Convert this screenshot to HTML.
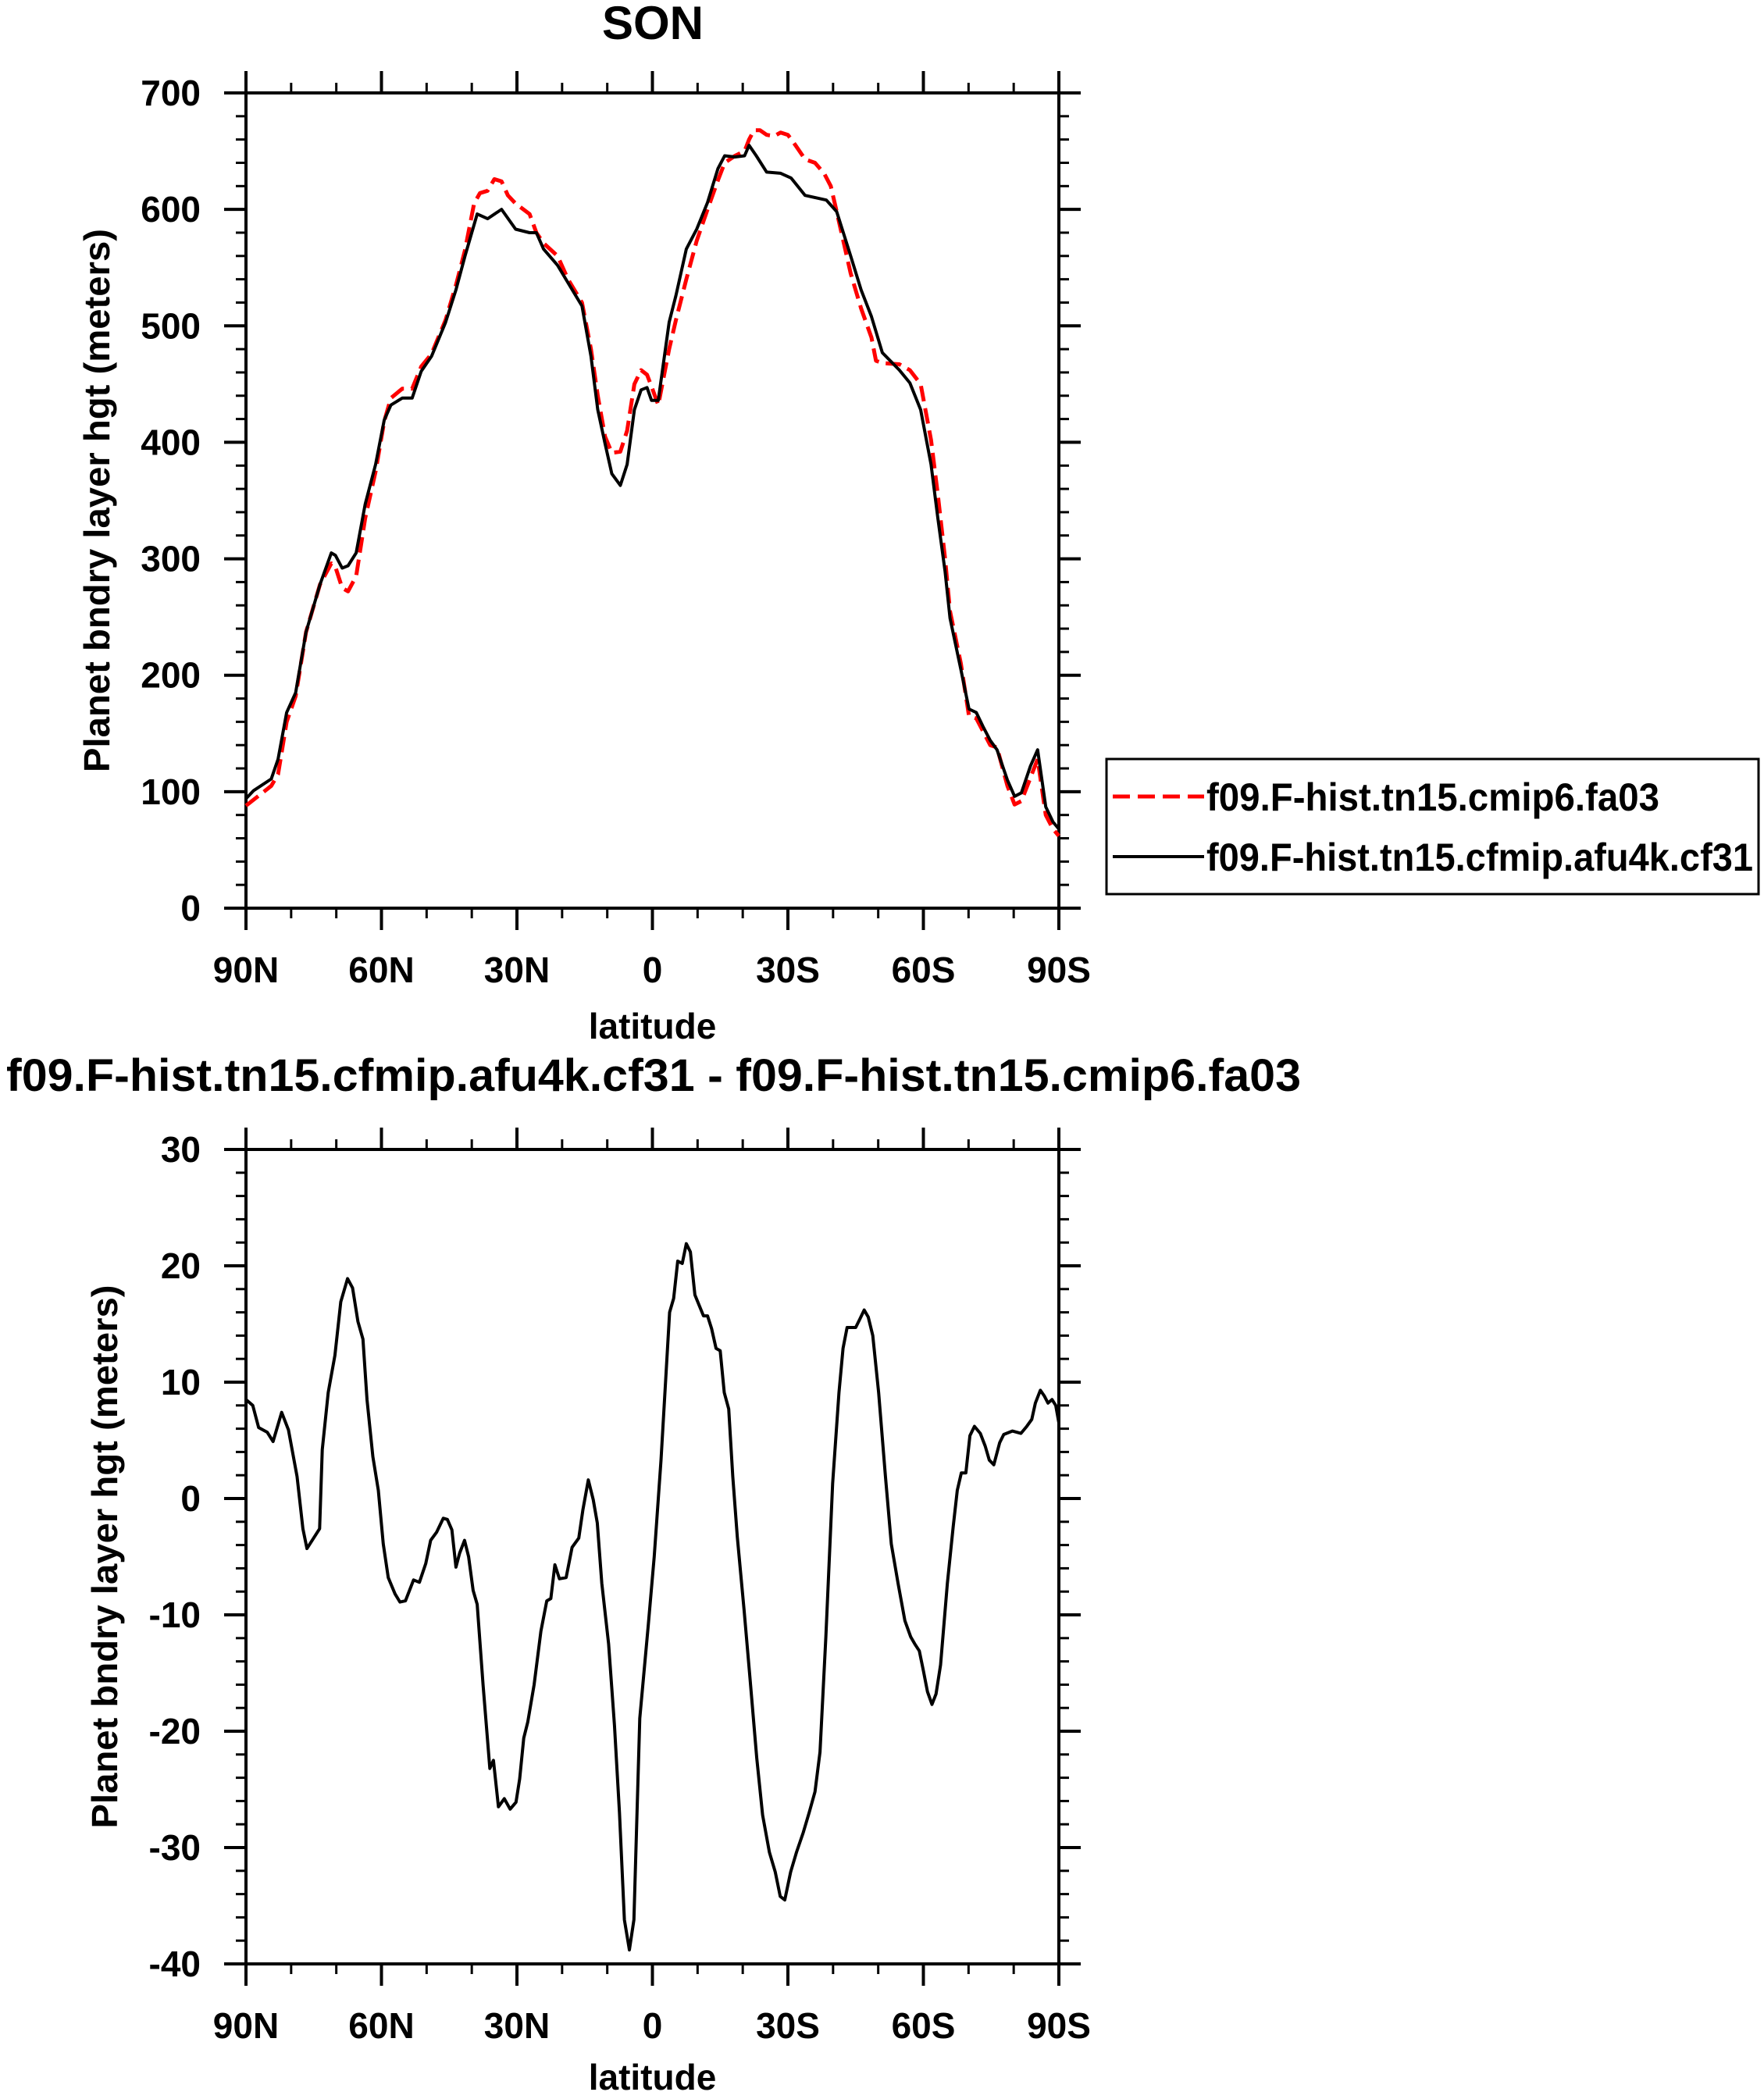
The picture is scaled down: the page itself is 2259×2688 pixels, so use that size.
<!DOCTYPE html>
<html><head><meta charset="utf-8"><style>
html,body{margin:0;padding:0;background:#fff;}
svg{display:block;font-family:"Liberation Sans",sans-serif;font-weight:bold;}
</style></head><body>
<svg id="chart" width="2259" height="2688" viewBox="0 0 2259 2688" xmlns="http://www.w3.org/2000/svg">
<rect width="2259" height="2688" fill="#fff"/>
<text x="836" y="50" font-size="60" text-anchor="middle">SON</text>
<text x="8" y="1397" font-size="58" textLength="1658" lengthAdjust="spacingAndGlyphs">f09.F-hist.tn15.cfmip.afu4k.cf31 - f09.F-hist.tn15.cmip6.fa03</text>
<g id="toppanel"></g>
<g id="botpanel"></g>
<g>
<rect x="1417" y="972" width="835" height="173" fill="none" stroke="#000" stroke-width="3"/>
<line x1="1425" y1="1020" x2="1542" y2="1020" stroke="#f00" stroke-width="5" stroke-dasharray="22 10"/>
<text x="1545" y="1038" font-size="50" textLength="580" lengthAdjust="spacingAndGlyphs">f09.F-hist.tn15.cmip6.fa03</text>
<line x1="1425" y1="1097" x2="1542" y2="1097" stroke="#000" stroke-width="4"/>
<text x="1545" y="1115" font-size="50" textLength="700" lengthAdjust="spacingAndGlyphs">f09.F-hist.tn15.cfmip.afu4k.cf31</text>
</g>
</svg>
<script>
// degrees from 90N (0 = 90N, 180 = 90S)
const xTickLabels = ["90N","60N","30N","0","30S","60S","90S"];
const topYTicks = [0,100,200,300,400,500,600,700];
const botYTicks = [-40,-30,-20,-10,0,10,20,30];
const blackX = [0,1.7,5.6,7.1,9,11,13.3,16.4,18.9,19.8,21.3,22.6,24.4,26.4,28.7,30.6,32.1,34.6,36.8,38.8,41.1,44.2,46.5,48.5,51.2,53.5,56.6,59.7,62.8,64.3,65.9,69,71.3,74.4,76.4,77.9,79.5,81,82.9,84.4,86,87.5,88.8,89.8,91.3,93.7,95.2,97.5,99.8,102.2,104.5,106,108.3,110.4,111.4,113,115.3,118.4,120.7,123.8,128.5,130.8,133.9,136.2,138.5,140.9,144.7,147,149.4,151.7,153.2,154.8,155.9,158.3,160.1,161.7,163.2,164.8,166.3,168.6,170.2,171.7,173.7,175.3,177.1,178.7,180];
const blackY = [94,101,111,128,168,185,237,278,305,303,292,294,305,347,381,419,432,438,438,461,474,503,531,560,596,592,600,583,580,580,566,552,537,517,474,428,399,373,363,381,428,445,447,436,436,503,526,566,583,606,635,646,645,646,655,646,632,631,627,612,608,598,560,531,508,477,462,451,428,381,335,289,249,205,171,168,156,144,136,110,96,99,122,136,87,74,68];
const redX = [0,5.6,7.1,9,11,13.3,16.4,18.9,19.8,21.3,22.6,24.4,26.4,28.7,30.6,32.1,34.6,36.8,38.8,41.1,44.2,46.5,48.5,50.5,51.8,53.5,55,56.6,58,59.7,62.8,64.3,65.9,69,71.3,74.4,76.4,77.9,79.5,81,82.9,84.4,86,87.5,88.8,89.8,91.3,93.7,95.2,97.5,99.8,102.2,104.5,106,108.3,110.4,111.4,112.5,113.8,115.3,117,118.4,120,121.5,123.8,126,128,129.5,130.8,133.9,136.2,138.5,139.5,141,144.7,147,149.4,151.7,153.2,154.8,155.9,158.3,160.1,161.7,163.2,164.8,166.3,168.6,170.2,171.7,173.7,175.3,177.1,178.7,180];
const redY = [88,105,115,160,182,237,278,296,293,275,272,285,335,375,418,438,446,446,465,476,505,535,565,605,614,616,626,624,612,605,596,580,571,560,540,520,480,440,405,391,392,410,450,462,458,448,432,480,505,540,573,600,625,640,646,650,660,668,668,664,663,666,664,656,643,640,631,620,598,545,515,490,470,468,467,462,450,402,355,300,255,210,165,163,152,140,138,105,89,92,112,128,80,68,62];
const diffX = [0,1.5,2.8,4.7,6,7.9,9.4,11.3,12.6,13.5,16.3,16.9,18.2,19.7,21,22.5,23.6,24.8,25.9,26.8,28.1,29.3,30.4,31.5,33,34.1,35.3,37.1,38.4,39.8,40.9,42.2,43.7,44.6,45.6,46.5,47.3,48.4,49.3,50.3,51.2,52.5,54,54.8,55.9,57.2,58.5,59.8,60.6,61.5,62.4,63.8,65.3,66.6,67.5,68.4,69.4,70.9,72.2,73.7,74.6,75.8,76.9,77.8,78.8,80.3,81.6,82.7,83.8,84.9,85.9,87.2,89.1,90.4,91.9,93.8,94.7,95.6,96.6,97.5,98.4,99.4,101.3,102.2,103.1,104.1,105,105.9,106.9,107.8,108.8,110.3,111.6,113.1,114.4,115.9,117.2,118.3,119.3,120.6,121.9,123.4,124.7,126,127.1,128.4,129.9,131.3,132.2,133.1,135,135.9,136.9,137.8,138.8,140.1,141.6,142.9,144.4,145.9,147.2,148.1,149.1,150,150.9,151.9,152.8,153.8,155.3,156.6,157.5,158.4,159.4,160.3,161.3,162.6,163.7,164.6,165.6,166.9,167.8,169.7,171.6,172.9,174,174.8,175.9,176.8,177.6,178.5,179.3,180];
const diffY = [8.5,8.0,6.1,5.7,4.9,7.4,5.9,1.9,-2.6,-4.3,-2.6,4.2,9.1,12.3,16.9,18.9,18.1,15.2,13.7,8.5,3.6,0.7,-3.9,-6.8,-8.2,-8.9,-8.8,-7.0,-7.2,-5.6,-3.6,-2.9,-1.7,-1.8,-2.7,-5.9,-4.7,-3.6,-5.0,-7.9,-9.1,-16,-23.2,-22.5,-26.5,-25.8,-26.7,-26.1,-24.1,-20.6,-19.2,-16,-11.4,-8.8,-8.6,-5.7,-6.9,-6.8,-4.2,-3.4,-1.0,1.6,-0.1,-2.1,-7.3,-12.5,-19.5,-27,-36.2,-38.8,-36.2,-18.9,-10.8,-5,3.3,16,17.2,20.4,20.2,21.9,21.2,17.5,15.7,15.7,14.6,12.9,12.7,9.1,7.7,1.9,-3.3,-9.6,-15.4,-22.3,-27.2,-30.4,-32.1,-34.2,-34.5,-32.1,-30.4,-28.7,-27.0,-25.2,-21.8,-11.9,1.3,9.1,12.9,14.7,14.7,15.4,16.2,15.6,14,9.1,1.9,-3.9,-7.3,-10.5,-11.9,-12.5,-13.1,-14.8,-16.6,-17.7,-16.8,-14.3,-7.3,-2.4,0.7,2.2,2.2,5.4,6.2,5.6,4.5,3.3,2.9,4.8,5.5,5.8,5.6,6.2,6.8,8.2,9.3,8.8,8.2,8.5,8.0,6.5];

const NS="http://www.w3.org/2000/svg";
function mk(parent,tag,attrs,name){
  const e=document.createElementNS(NS,tag);
  for(const k in attrs) e.setAttribute(k,attrs[k]);
  
  
  parent.appendChild(e);return e;
}
function panel(g,L,R,T,B,ymin,ymax,yTicks,yMinorStep,yTitle,titleX,xLblY,latY,prefix){
  const sx=d=>L+(d/180)*(R-L);
  const sy=v=>B-(v-ymin)/(ymax-ymin)*(B-T);
  for(let d=0;d<=180;d+=10){ if(d%30===0) continue;
    mk(g,'line',{x1:sx(d),x2:sx(d),y1:B,y2:B+13,stroke:'#000','stroke-width':3},prefix+'x-minor-tick');
    mk(g,'line',{x1:sx(d),x2:sx(d),y1:T,y2:T-13,stroke:'#000','stroke-width':3},prefix+'x-minor-tick-top');
  }
  for(let v=ymin;v<=ymax+1e-9;v+=yMinorStep){
    mk(g,'line',{x1:L,x2:L-13,y1:sy(v),y2:sy(v),stroke:'#000','stroke-width':3},prefix+'y-minor-tick');
    mk(g,'line',{x1:R,x2:R+13,y1:sy(v),y2:sy(v),stroke:'#000','stroke-width':3},prefix+'y-minor-tick-right');
  }
  xTickLabels.forEach((lab,i)=>{const d=i*30;
    mk(g,'line',{x1:sx(d),x2:sx(d),y1:B,y2:B+28,stroke:'#000','stroke-width':4},prefix+'x-major-tick');
    mk(g,'line',{x1:sx(d),x2:sx(d),y1:T,y2:T-28,stroke:'#000','stroke-width':4},prefix+'x-major-tick-top');
    const t=mk(g,'text',{x:sx(d),y:xLblY,'font-size':46,'text-anchor':'middle'},prefix+'x-tick-label');t.textContent=lab;
  });
  yTicks.forEach(v=>{
    mk(g,'line',{x1:L,x2:L-28,y1:sy(v),y2:sy(v),stroke:'#000','stroke-width':4},prefix+'y-major-tick');
    mk(g,'line',{x1:R,x2:R+28,y1:sy(v),y2:sy(v),stroke:'#000','stroke-width':4},prefix+'y-major-tick-right');
    const t=mk(g,'text',{x:257,y:sy(v)+16,'font-size':46,'text-anchor':'end'},prefix+'y-tick-label');t.textContent=String(v);
  });
  mk(g,'rect',{x:L,y:T,width:R-L,height:B-T,fill:'none',stroke:'#000','stroke-width':4},prefix+'plot-frame');
  const xl=mk(g,'text',{x:(L+R)/2,y:latY,'font-size':46,'text-anchor':'middle'},prefix+'x-axis-title');xl.textContent='latitude';
  const cy=(T+B)/2;
  const yt=mk(g,'text',{x:titleX,y:cy,'font-size':46,'text-anchor':'middle',transform:'rotate(-90 '+titleX+' '+cy+')',textLength:696,lengthAdjust:'spacingAndGlyphs',dy:16},prefix+'y-axis-title');
  yt.textContent=yTitle;
  return {sx,sy};
}
function drawLine(g,xs,ys,ax,attrs,name){
  const pts=xs.map((d,i)=>ax.sx(d).toFixed(1)+','+ax.sy(ys[i]).toFixed(1)).join(' ');
  return mk(g,'polyline',Object.assign({points:pts,fill:'none','stroke-linejoin':'round'},attrs),name);
}
const topG=document.getElementById('toppanel');
const axT=panel(topG,315,1356,119,1163,0,700,topYTicks,20,'Planet bndry layer hgt (meters)',124,1258,1330,'top-');
drawLine(topG,redX,redY,axT,{stroke:'#f00','stroke-width':5,'stroke-dasharray':'20 9'},'series-cmip6-fa03');
drawLine(topG,blackX,blackY,axT,{stroke:'#000','stroke-width':4},'series-cfmip-cf31');
const botG=document.getElementById('botpanel');
const axB=panel(botG,315,1356,1472,2515,-40,30,botYTicks,2,'Planet bndry layer hgt (meters)',134,2610,2676,'bottom-');
drawLine(botG,diffX,diffY,axB,{stroke:'#000','stroke-width':4},'series-difference');
</script>
</body></html>
